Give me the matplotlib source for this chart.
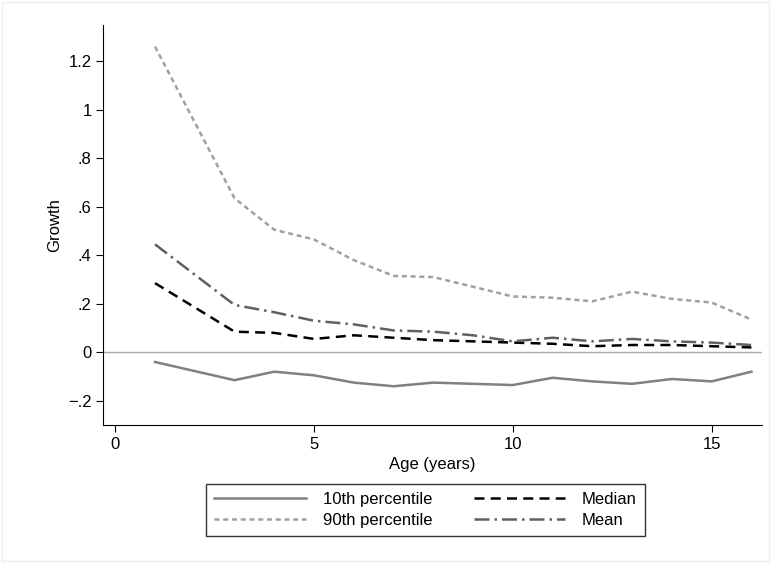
import numpy as np
import matplotlib.pyplot as plt

age = [1, 3, 4, 5, 6, 7, 8, 9, 10, 11, 12, 13, 14, 15, 16]
p10 = [-0.04, -0.115, -0.08, -0.095, -0.125, -0.14, -0.125, -0.13, -0.135, -0.105, -0.12, -0.13, -0.11, -0.12, -0.08]
p90 = [1.26, 0.635, 0.505, 0.465, 0.38, 0.315, 0.31, 0.27, 0.23, 0.225, 0.21, 0.25, 0.22, 0.205, 0.135]
median = [0.285, 0.085, 0.08, 0.055, 0.07, 0.06, 0.05, 0.045, 0.04, 0.035, 0.025, 0.03, 0.03, 0.025, 0.02]
mean = [0.445, 0.195, 0.165, 0.13, 0.115, 0.09, 0.085, 0.07, 0.045, 0.06, 0.045, 0.055, 0.045, 0.04, 0.03]

plt.rcParams['font.family'] = ['Liberation Sans', 'DejaVu Sans']
fig = plt.figure(figsize=(7.71, 5.63), dpi=100)
fig.patches.append(plt.Rectangle((0.003, 0.003), 0.994, 0.994, transform=fig.transFigure,
                                 fill=False, ec='#eeeeee', lw=1))
ax = fig.add_axes([0.134, 0.245, 0.854, 0.711])

ax.axhline(0, color='#aaaaaa', lw=1)
l1, = ax.plot(age, p10, color='#808080', lw=1.8, ls='-', label='10th percentile')
l3, = ax.plot(age, p90, color='#a0a0a0', lw=1.8, ls=(0, (2, 1.5)), label='90th percentile')
l2, = ax.plot(age, median, color='black', lw=1.8, ls=(0, (4, 2.5)), label='Median')
l4, = ax.plot(age, mean, color='#606060', lw=1.8, ls=(0, (6, 2, 1, 2)), label='Mean')

ax.set_xlim(-0.3, 16.26)
ax.set_ylim(-0.3, 1.35)
ax.set_xticks([0, 5, 10, 15])
ax.set_yticks([-0.2, 0, 0.2, 0.4, 0.6, 0.8, 1, 1.2])
ax.set_yticklabels(['\u2212.2', '0', '.2', '.4', '.6', '.8', '1', '1.2'])
ax.tick_params(labelsize=12, length=5)
for s in ['top', 'right']:
    ax.spines[s].set_visible(False)
ax.set_xlabel('Age (years)', fontsize=12)
ax.set_ylabel('Growth', fontsize=12)

fig.legend(handles=[l1, l3, l2, l4], ncol=2, loc='center', bbox_to_anchor=(0.552, 0.094),
           fontsize=12, frameon=True, fancybox=False, edgecolor='black',
           handlelength=5.5, columnspacing=2.5, handletextpad=1.0, borderpad=0.5, labelspacing=0.35)

fig.savefig('out.png', dpi=100)
